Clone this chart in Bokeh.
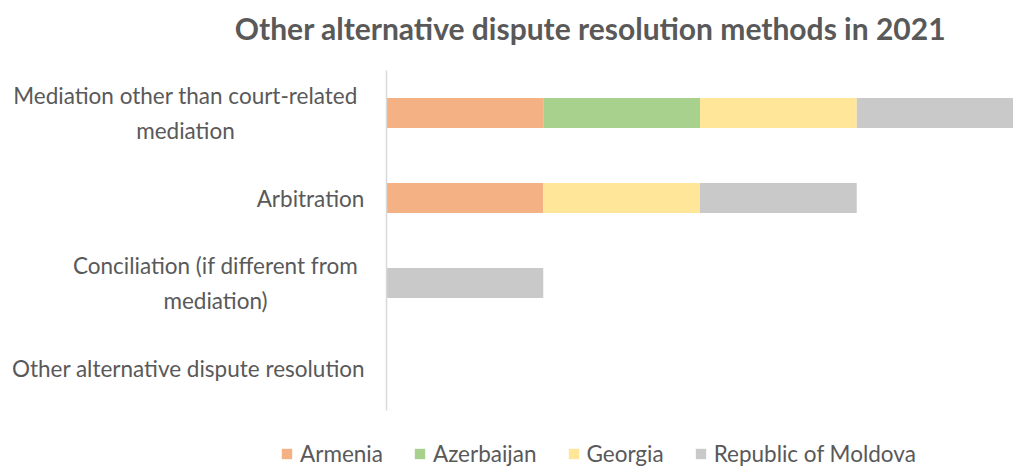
from bokeh.plotting import figure
from bokeh.models import Range1d, Label, Legend, LegendItem, ColumnDataSource
from bokeh.embed import file_html
from bokeh.resources import INLINE

title = "Other alternative dispute resolution methods in 2021"
categories = [
    "Mediation other than court-related\nmediation",
    "Arbitration",
    "Conciliation (if different from\nmediation)",
    "Other alternative dispute resolution",
]
countries = ["Armenia", "Azerbaijan", "Georgia", "Republic of Moldova"]
armenia = [1, 1, 0, 0]
azerbaijan = [1, 0, 0, 0]
georgia = [1, 1, 0, 0]
moldova = [1, 1, 1, 0]
colors = ["#F4B183", "#A9D18E", "#FFE699", "#C9C9C9"]

TEXT = "#595959"
FONT = "Lato"

n = len(categories)
ypos = [n - i - 0.5 for i in range(n)]
src = ColumnDataSource(dict(y=ypos, Armenia=armenia, Azerbaijan=azerbaijan,
                            Georgia=georgia, **{"Republic of Moldova": moldova}))

# plot area: value 0 at 386px from the left, 156.75 px per unit; 85 px per category
p = figure(width=1013, height=466, output_backend="svg", toolbar_location=None,
           x_range=Range1d(-386 / 156.75, 4), y_range=Range1d(-56 / 85, n + 70 / 85),
           min_border=0)
p.axis.visible = False
p.grid.visible = False
p.outline_line_color = None

rs = p.hbar_stack(countries, y="y", height=0.355, color=colors, line_color=None,
                  source=src)

# category axis line
p.segment(x0=[0], y0=[0], x1=[0], y1=[n], line_color="#D9D9D9", line_width=1.5)

label_cx = [185, 310, 215, 188]
for lab, yy, cx in zip(categories, ypos, label_cx):
    p.add_layout(Label(x=cx, y=yy, x_units="screen", y_units="data", text=lab,
                       text_align="center", text_baseline="middle",
                       text_font=FONT, text_font_size="22.5px", text_color=TEXT,
                       text_line_height=1.27))

p.add_layout(Label(x=590, y=n + 43 / 85, x_units="screen", y_units="data", text=title,
                   text_align="center", text_baseline="middle",
                   text_font=FONT, text_font_style="bold", text_font_size="30px",
                   text_color=TEXT))

lg = Legend(items=[LegendItem(label=c, renderers=[r]) for c, r in zip(countries, rs)])
lg.orientation = "horizontal"
lg.location = (280, -1)
lg.border_line_color = None
lg.background_fill_alpha = 0
lg.padding = 0
lg.margin = 0
lg.spacing = 30
lg.glyph_width = 13
lg.glyph_height = 13
lg.label_standoff = 7
lg.label_text_font = FONT
lg.label_text_font_size = "22.5px"
lg.label_text_color = TEXT
lg.label_height = 22
p.add_layout(lg, "center")

open("out.html", "w").write(file_html(p, INLINE))
